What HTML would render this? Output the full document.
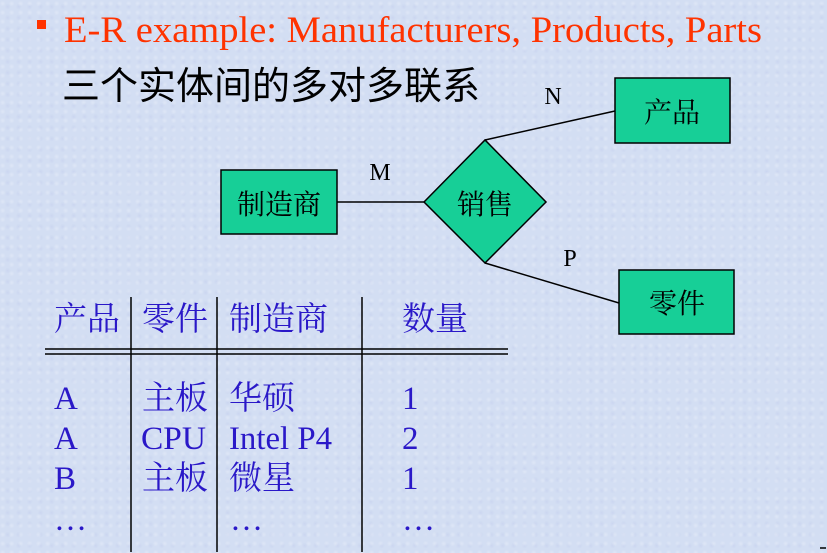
<!DOCTYPE html>
<html><head><meta charset="utf-8"><style>
html,body{margin:0;padding:0}
body{width:827px;height:553px;overflow:hidden;background:#d3def3;
background-image:radial-gradient(circle at 30% 40%,rgba(255,255,255,.25) 0,transparent 3px),radial-gradient(circle at 70% 60%,rgba(180,190,230,.25) 0,transparent 3px);background-size:9px 9px,11px 11px}
svg{display:block}
.s{font-family:"Liberation Serif","Noto Serif CJK SC","Noto Sans CJK SC",serif}
</style></head><body>
<svg width="827" height="553" xmlns="http://www.w3.org/2000/svg">
<rect x="37" y="20" width="9" height="9" fill="#ff3300"/>
<text x="64" y="42" class="s" font-size="37" fill="#ff3300" textLength="698" lengthAdjust="spacingAndGlyphs">E-R example: Manufacturers, Products, Parts</text>
<text x="62" y="99" font-family="'Noto Sans CJK SC',sans-serif" font-size="38" fill="#000" textLength="418" lengthAdjust="spacingAndGlyphs">三个实体间的多对多联系</text>
<g stroke="#000" stroke-width="1.5" fill="none">
<line x1="337" y1="202" x2="424" y2="202"/>
<line x1="485" y1="140" x2="615" y2="111"/>
<line x1="485" y1="263" x2="619" y2="303"/>
</g>
<g fill="#17cf97" stroke="#000" stroke-width="1.5">
<rect x="221" y="170" width="116" height="64"/>
<rect x="615" y="78" width="115" height="65"/>
<rect x="619" y="270" width="115" height="64"/>
<polygon points="424,202 485,140 546,202 485,263"/>
</g>
<g font-family="'Noto Serif CJK SC','Noto Sans CJK SC',serif" font-size="28" fill="#000" text-anchor="middle">
<text x="279" y="214">制造商</text>
<text x="672" y="122">产品</text>
<text x="677" y="313">零件</text>
<text x="485" y="214">销售</text>
</g>
<g class="s" font-size="24" fill="#000" text-anchor="middle">
<text x="380" y="180">M</text>
<text x="553" y="104">N</text>
<text x="570" y="266">P</text>
</g>
<g stroke="#000" stroke-width="1.5">
<line x1="131" y1="297" x2="131" y2="552"/>
<line x1="217" y1="297" x2="217" y2="552"/>
<line x1="362" y1="297" x2="362" y2="552"/>
<line x1="45" y1="349" x2="508" y2="349"/>
<line x1="45" y1="354" x2="508" y2="354"/>
<line x1="820" y1="548" x2="826" y2="548"/>
</g>
<g class="s" font-size="33" fill="#2a18c8">
<text x="54" y="330">产品</text><text x="142" y="330">零件</text><text x="229" y="330">制造商</text><text x="402" y="330">数量</text>
<text x="54" y="409">A</text><text x="142" y="409">主板</text><text x="229" y="409">华硕</text><text x="402" y="409">1</text>
<text x="54" y="449">A</text><text x="141" y="449" textLength="65" lengthAdjust="spacingAndGlyphs">CPU</text><text x="229" y="449" textLength="103" lengthAdjust="spacingAndGlyphs">Intel P4</text><text x="402" y="449">2</text>
<text x="54" y="489">B</text><text x="142" y="489">主板</text><text x="229" y="489">微星</text><text x="402" y="489">1</text>
<text x="54" y="530">…</text><text x="230" y="530">…</text><text x="402" y="530">…</text>
</g>
</svg>
</body></html>
